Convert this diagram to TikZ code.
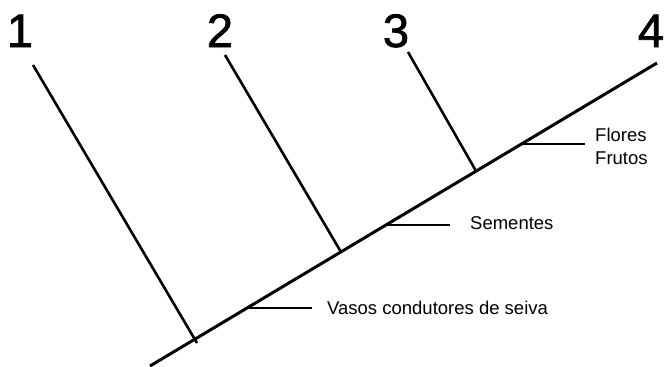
\documentclass[tikz,border=0pt]{standalone}
\usepackage{fontspec}
\setmainfont{Liberation Sans}
\newfontface\numfont{Liberation Sans}[FakeBold=1.6]
\begin{document}
\begin{tikzpicture}[x=1pt,y=-1pt,
  num/.style={anchor=base,inner sep=0pt,font=\numfont\fontsize{47}{47}\selectfont},
  lab/.style={anchor=base west,inner sep=0pt,font=\fontsize{18.5}{20}\selectfont},
  trunk/.style={line width=3pt},
  branch/.style={line width=2.6pt},
  tick/.style={line width=1.4pt}]
\useasboundingbox (0,0) rectangle (665,367);
% numbers
\node[num] (n1) at (20,47) {1};
\node[num] (n2) at (220,47) {2};
\node[num] (n3) at (396,47) {3};
\node[num] (n4) at (651,47) {4};
% tree
\coordinate (root) at (150,366);
\coordinate (t4) at (657,63);
\coordinate (t1) at (33,65);
\coordinate (b1) at (197,343);
\coordinate (t2) at (225,55);
\coordinate (b2) at (341,252);
\coordinate (t3) at (408,52);
\coordinate (b3) at (476,171);
\draw[trunk] (root) -- (t4);
\draw[branch] (t1) -- (b1);
\draw[branch] (t2) -- (b2);
\draw[branch] (t3) -- (b3);
% labels
\coordinate (k1) at (247,308);
\coordinate (k2) at (386,225);
\coordinate (k3) at (521,144);
\node[lab] (l1) at (327,314) {Vasos condutores de seiva};
\node[lab] (l2) at (470,229) {Sementes};
\node[lab] (l3) at (595,141) {Flores};
\node[lab] (l4) at (595,164) {Frutos};
\draw[tick] (k1) -- (k1 -| 312,0);
\draw[tick] (k2) -- (k2 -| 450,0);
\draw[tick] (k3) -- (k3 -| 585,0);
\end{tikzpicture}
\end{document}
